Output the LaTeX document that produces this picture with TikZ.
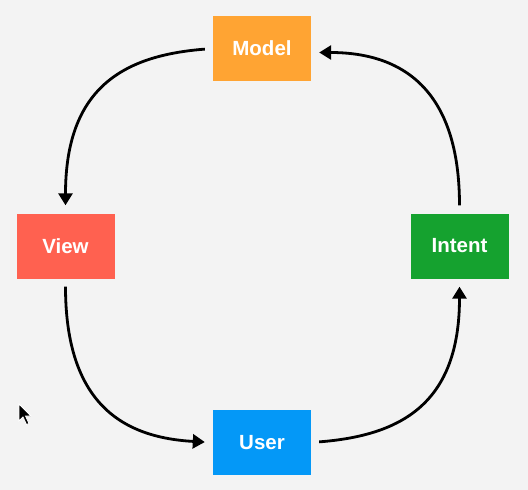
\documentclass[tikz,border=0pt]{standalone}
\usepackage{fontspec}
\setmainfont{Liberation Sans}
\usepackage{xcolor}
\usepackage{tikz}
\usetikzlibrary{arrows.meta}

\definecolor{bggray}{HTML}{F3F3F3}
\definecolor{modelorange}{HTML}{FFA433}
\definecolor{viewred}{HTML}{FF6150}
\definecolor{intentgreen}{HTML}{15A22F}
\definecolor{userblue}{HTML}{0498F7}

\begin{document}
\begin{tikzpicture}[x=1pt, y=-1pt,
  every node/.style={font=\fontsize{20.5}{24}\selectfont\bfseries},
  box/.style={text=white, minimum width=98pt, minimum height=65pt, inner sep=0pt},
  flow/.style={line width=2.8pt, -{Triangle[length=12pt,width=14pt]}, shorten <=8pt, shorten >=8pt}]
\fill[bggray] (0,0) rectangle (528,490);
\useasboundingbox (0,0) rectangle (528,490);
\node[box, fill=modelorange] (model) at (262,48.5) {Model};
\node[box, fill=viewred] (view) at (65.5,246) {View};
\node[box, fill=intentgreen] (intent) at (459.5,246) {Intent};
\node[box, fill=userblue] (user) at (262,442.5) {User};
\draw[flow] (model.west) .. controls +(-90,7) and +(0,-125) .. (view.north);
\draw[flow] (view.south) .. controls +(0,125) and +(-90,-5) .. (user.west);
\draw[flow] (user.east) .. controls +(90,-7) and +(0,125) .. (intent.south);
\draw[flow] (intent.north) .. controls +(0,-125) and +(90,0) .. ([yshift=-4pt]model.east);
% mouse pointer
\filldraw[fill=black, draw=white, line width=0.8pt] (19,404) -- (19,421) -- (23,417) -- (26.5,424.5) -- (29,423.5) -- (25.5,416) -- (31,416) -- cycle;
\end{tikzpicture}
\end{document}
